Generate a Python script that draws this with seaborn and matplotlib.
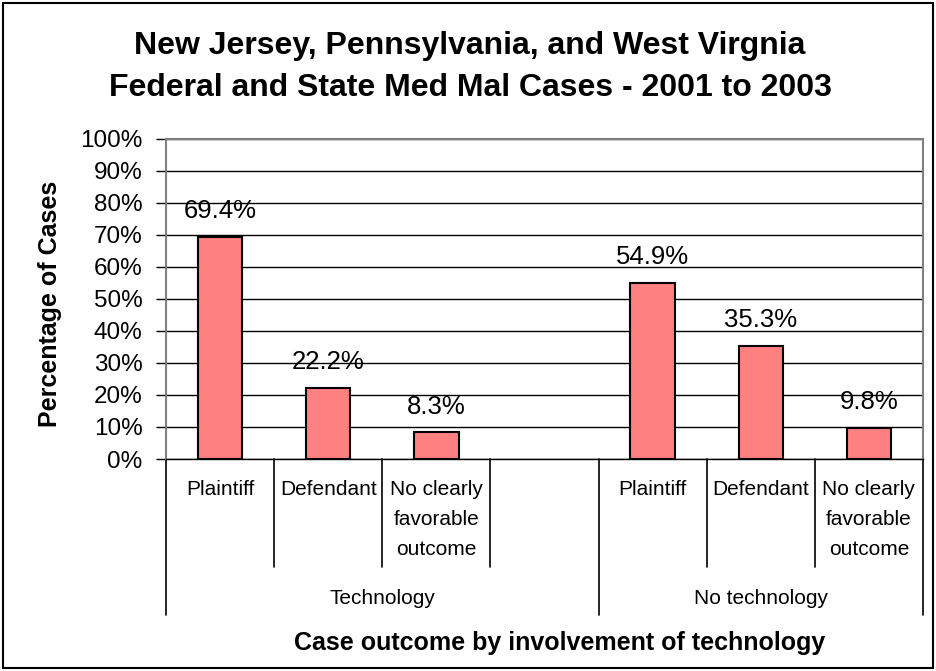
import matplotlib
matplotlib.use("Agg")
import matplotlib.pyplot as plt
import matplotlib.transforms as mtransforms
from matplotlib.ticker import PercentFormatter, MultipleLocator
from matplotlib.patches import Rectangle
import seaborn as sns
import pandas as pd

# data
groups = ["Technology", "Technology", "Technology",
          "No technology", "No technology", "No technology"]
outcomes = ["Plaintiff", "Defendant", "No clearly\nfavorable\noutcome"] * 2
share = [0.694, 0.222, 0.083, 0.549, 0.353, 0.098]
share_labels = ["69.4%", "22.2%", "8.3%", "54.9%", "35.3%", "9.8%"]
group_names = ["Technology", "No technology"]

df = pd.DataFrame({"group": groups, "outcome": outcomes, "share": share})
df["slot"] = df["group"] + "|" + df["outcome"]

# one empty slot after the Technology group, like the Excel chart
order = []
for g in group_names:
    order += list(df.loc[df["group"] == g, "slot"])
    if g == "Technology":
        order.append("gap")

sns.set_style("white", {"text.color": "black", "ytick.color": "black",
                        "xtick.color": "black", "axes.labelcolor": "black"})
plt.rcParams["font.family"] = ["Liberation Sans", "DejaVu Sans"]

W, H = 936, 671
fig = plt.figure(figsize=(W / 100, H / 100), dpi=100)
ax = fig.add_axes([166 / W, 1 - 459 / H, (923 - 166) / W, (459 - 139) / H])

sns.barplot(data=df, x="slot", y="share", order=order, ax=ax,
            color="#FF8080", saturation=1, width=0.41,
            edgecolor="black", linewidth=1.5, zorder=3)

ax.set_ylim(0, 1)
ax.set_xlim(-0.5, len(order) - 0.5)
ax.yaxis.set_major_locator(MultipleLocator(0.1))
ax.yaxis.set_major_formatter(PercentFormatter(1.0, decimals=0))
ax.grid(axis="y", color="black", linewidth=1)
ax.set_axisbelow(True)
ax.tick_params(axis="y", direction="out", length=7, width=1, color="black",
               pad=10, labelsize=17.5, labelcolor="black", left=True)
ax.tick_params(axis="x", bottom=False, labelbottom=False)
ax.set_xlabel("")
ax.set_ylabel("")
for side in ["left", "top", "right"]:
    ax.spines[side].set_color("#808080")
    ax.spines[side].set_linewidth(1.5)
ax.spines["bottom"].set_color("black")
ax.spines["bottom"].set_linewidth(1)

ax.bar_label(ax.containers[0], labels=share_labels, padding=10, fontsize=18.5,
             color="black")

# two-level category axis
trans = mtransforms.blended_transform_factory(ax.transData, fig.transFigure)
def fy(p):
    return 1 - p / H

for i, key in enumerate(order):
    if key == "gap":
        continue
    ax.text(i, fy(480), key.split("|")[1], transform=trans, ha="center",
            va="top", fontsize=15, linespacing=1.72, color="black", clip_on=False)

starts = []
pos = 0
for g in group_names:
    n = sum(1 for k in order if k.startswith(g + "|"))
    if g == "Technology":
        n += 1
    starts.append((pos, n))
    pos += n

for s, n in starts:
    ax.plot([s - 0.5, s - 0.5], [fy(459), fy(615)], transform=trans,
            color="black", linewidth=1.2, clip_on=False)
    for j in range(1, n):
        if order[s + j - 1] == "gap":
            continue
        ax.plot([s + j - 0.5, s + j - 0.5], [fy(459), fy(567)], transform=trans,
                color="black", linewidth=1.2, clip_on=False)
    label = next(g for g in group_names if order[s].startswith(g + "|"))
    ax.text(s + (n - 1) / 2, fy(598), label, transform=trans, ha="center",
            va="center", fontsize=15, color="black", clip_on=False)
ax.plot([len(order) - 0.5] * 2, [fy(459), fy(615)], transform=trans,
        color="black", linewidth=1.2, clip_on=False)

fig.text(470 / W, fy(67), "New Jersey, Pennsylvania, and West Virgnia\n"
         "Federal and State Med Mal Cases - 2001 to 2003",
         ha="center", va="center", fontsize=23, fontweight="bold",
         linespacing=1.55, color="black")
fig.text(50 / W, fy(304), "Percentage of Cases", rotation=90, ha="center",
         va="center", fontsize=18, fontweight="bold", color="black")
fig.text(560 / W, fy(643), "Case outcome by involvement of technology",
         ha="center", va="center", fontsize=18, fontweight="bold", color="black")

fig.patches.append(Rectangle((3 / W, 3 / H), 1 - 6 / W, 1 - 6 / H,
                             transform=fig.transFigure, fill=False,
                             edgecolor="black", linewidth=1.5))

fig.savefig("out.png", dpi=100)
